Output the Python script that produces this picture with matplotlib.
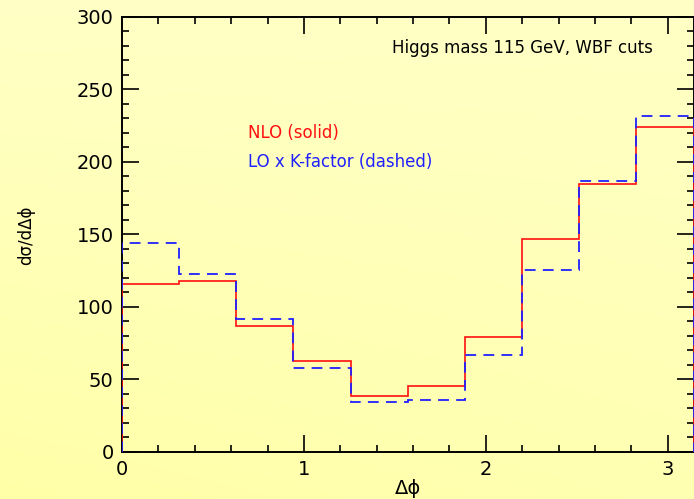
import numpy as np
import matplotlib
matplotlib.use("Agg")
import matplotlib.pyplot as plt
from matplotlib.ticker import MultipleLocator

# bin edges in delta phi (10 equal bins from 0 to pi)
edges = np.linspace(0, np.pi, 11)

# d sigma / d delta phi per bin
nlo = [115.9, 118.0, 86.7, 62.5, 38.6, 45.7, 79.0, 147.0, 184.6, 224.0]
lo_k = [144.3, 122.8, 92.0, 57.7, 34.7, 35.9, 67.1, 125.5, 186.9, 231.5]

fig = plt.figure(figsize=(6.94, 4.99), dpi=100)

# pale yellow background, a little stronger towards the lower left
bg = fig.add_axes([0, 0, 1, 1], zorder=-10)
yy, xx = np.mgrid[0:1:200j, 0:1:200j]
blue = (168 + 30 * yy + 10 * xx * (1 - yy)) / 255.0
img = np.dstack([np.ones_like(blue), np.ones_like(blue), blue])
bg.imshow(img, origin="lower", extent=[0, 1, 0, 1], aspect="auto")
bg.axis("off")

ax = fig.add_axes([0.1758, 0.0942, 0.8236, 0.8718])
ax.patch.set_alpha(0)

ax.stairs(nlo, edges, baseline=0, color="#ff1010", lw=1.2, zorder=3)
ax.stairs(lo_k, edges, baseline=0, color="#2020ff", lw=1.3,
          linestyle=(0, (6, 4)), zorder=4)

ax.set_xlim(0, np.pi)
ax.set_ylim(0, 300)
ax.xaxis.set_major_locator(MultipleLocator(1))
ax.xaxis.set_minor_locator(MultipleLocator(0.2))
ax.yaxis.set_major_locator(MultipleLocator(50))
ax.yaxis.set_minor_locator(MultipleLocator(10))
ax.tick_params(which="both", direction="in", top=True, right=True,
               labelsize=14, colors="black", pad=6)
ax.tick_params(which="major", length=12, width=1.2)
ax.tick_params(which="minor", length=5, width=1.2)
for s in ax.spines.values():
    s.set_linewidth(1.4)

# axis titles placed directly in figure coordinates
fig.text(408 / 694, 1 - 488 / 499, "Δϕ", fontsize=14, ha="center", va="center")
fig.text(26 / 694, 1 - 235 / 499, "dσ/dΔϕ", fontsize=12, rotation=90,
         ha="center", va="center")

ax.text(0.472, 0.929, "Higgs mass 115 GeV, WBF cuts", transform=ax.transAxes,
        fontsize=12, va="center", ha="left", color="black")
ax.text(0.2205, 0.733, "NLO (solid)", transform=ax.transAxes,
        fontsize=12, va="center", ha="left", color="#ff1010")
ax.text(0.2205, 0.667, "LO x K-factor (dashed)", transform=ax.transAxes,
        fontsize=12, va="center", ha="left", color="#2020ff")

fig.savefig("out.png", dpi=100)
